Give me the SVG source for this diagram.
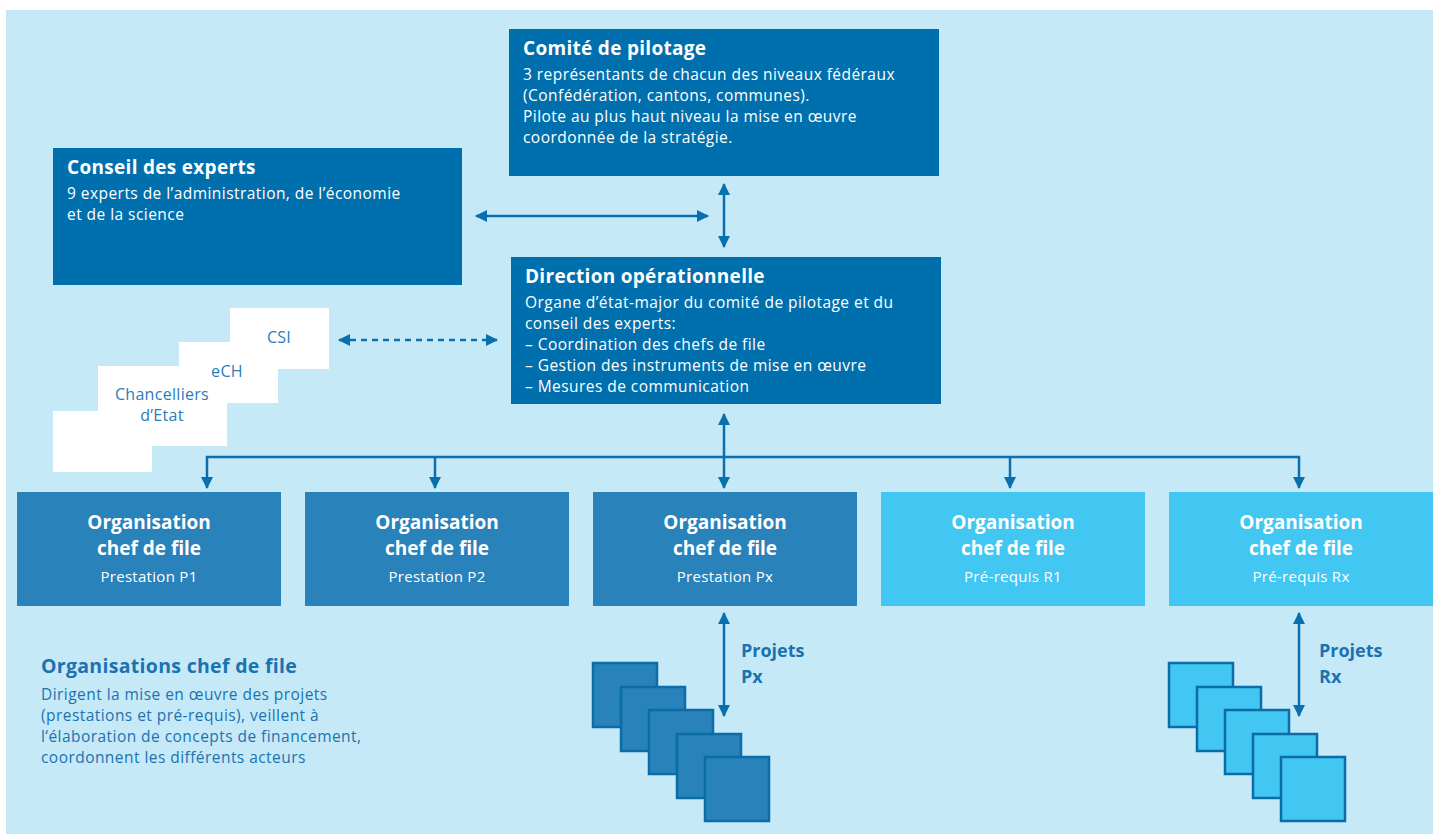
<svg xmlns="http://www.w3.org/2000/svg" width="1433" height="834" viewBox="0 0 1433 834">
<defs>
<marker id="ah" viewBox="0 0 12 12" refX="11" refY="6" markerWidth="12" markerHeight="12" markerUnits="userSpaceOnUse" orient="auto-start-reverse">
<path d="M0,0 L12,6 L0,12 z" fill="#0870AE"/>
</marker>
</defs>
<style>
text{font-family:"Open Sans","Noto Sans","Liberation Sans",sans-serif}
.dk{fill:#006FAD}
.md{fill:#2A82BA}
.lt{fill:#42C6F2}
.wt{fill:#FFFFFF}
.h{font-weight:bold;font-size:19px;letter-spacing:0.3px;fill:#FFFFFF}
.b{font-size:15.5px;letter-spacing:0.45px;fill:#FFFFFF}
.oh{font-weight:bold;font-size:19px;fill:#FFFFFF;text-anchor:middle}
.os{font-size:15px;letter-spacing:0.3px;fill:#FFFFFF;text-anchor:middle}
.bt{font-size:16px;letter-spacing:0.3px;fill:#2A7DB8;text-anchor:middle}
.ln{stroke:#0870AE;stroke-width:2.5;fill:none}
.sqP{fill:#2A82BA;stroke:#0A6DA8;stroke-width:2.5}
.sqR{fill:#42C6F2;stroke:#0A6DA8;stroke-width:2.5}
.pj{font-weight:bold;font-size:18px;fill:#1A73B0}
.lh{font-weight:bold;font-size:19.5px;letter-spacing:0.3px;fill:#1A73B0}
.lb{font-size:15.5px;letter-spacing:0.45px;fill:#1A73B0}
</style>
<rect x="6" y="10" width="1427" height="824" fill="#C6E9F8"/>

<g id="comite">
<rect class="dk" x="509" y="29" width="430" height="147"/>
<text class="h" x="523" y="55">Comité de pilotage</text>
<text class="b" x="523" y="80">3 représentants de chacun des niveaux fédéraux</text>
<text class="b" x="523" y="101">(Confédération, cantons, communes).</text>
<text class="b" x="523" y="122">Pilote au plus haut niveau la mise en œuvre</text>
<text class="b" x="523" y="143">coordonnée de la stratégie.</text>
</g>

<g id="conseil">
<rect class="dk" x="53" y="148" width="409" height="137"/>
<text class="h" x="67" y="174">Conseil des experts</text>
<text class="b" x="67" y="199">9 experts de l’administration, de l’économie</text>
<text class="b" x="67" y="220">et de la science</text>
</g>

<g id="direction">
<rect class="dk" x="511" y="257" width="430" height="147"/>
<text class="h" x="525" y="283">Direction opérationnelle</text>
<text class="b" x="525" y="308">Organe d’état-major du comité de pilotage et du</text>
<text class="b" x="525" y="329">conseil des experts:</text>
<text class="b" x="525" y="350">– Coordination des chefs de file</text>
<text class="b" x="525" y="371">– Gestion des instruments de mise en œuvre</text>
<text class="b" x="525" y="392">– Mesures de communication</text>
</g>

<g id="partners">
<rect class="wt" x="53" y="411" width="99" height="61"/>
<rect class="wt" x="98" y="366" width="129" height="80"/>
<rect class="wt" x="179" y="342" width="99" height="61"/>
<rect class="wt" x="230" y="308" width="99" height="61"/>
<text class="bt" x="279" y="343">CSI</text>
<text class="bt" x="227" y="377">eCH</text>
<text class="bt" x="162" y="400">Chancelliers</text>
<text class="bt" x="162" y="421">d’Etat</text>
</g>

<g id="org-p1">
<rect class="md" x="17" y="492" width="264" height="114"/>
<text class="oh" x="149" y="529">Organisation</text>
<text class="oh" x="149" y="555">chef de file</text>
<text class="os" x="149" y="582">Prestation P1</text>
</g>
<g id="org-p2">
<rect class="md" x="305" y="492" width="264" height="114"/>
<text class="oh" x="437" y="529">Organisation</text>
<text class="oh" x="437" y="555">chef de file</text>
<text class="os" x="437" y="582">Prestation P2</text>
</g>
<g id="org-px">
<rect class="md" x="593" y="492" width="264" height="114"/>
<text class="oh" x="725" y="529">Organisation</text>
<text class="oh" x="725" y="555">chef de file</text>
<text class="os" x="725" y="582">Prestation Px</text>
</g>
<g id="org-r1">
<rect class="lt" x="881" y="492" width="264" height="114"/>
<text class="oh" x="1013" y="529">Organisation</text>
<text class="oh" x="1013" y="555">chef de file</text>
<text class="os" x="1013" y="582">Pré-requis R1</text>
</g>
<g id="org-rx">
<rect class="lt" x="1169" y="492" width="264" height="114"/>
<text class="oh" x="1301" y="529">Organisation</text>
<text class="oh" x="1301" y="555">chef de file</text>
<text class="os" x="1301" y="582">Pré-requis Rx</text>
</g>

<g id="projets-px">
<rect class="sqP" x="593" y="663" width="64" height="64"/>
<rect class="sqP" x="621" y="687" width="64" height="64"/>
<rect class="sqP" x="649" y="710" width="64" height="64"/>
<rect class="sqP" x="677" y="734" width="64" height="64"/>
<rect class="sqP" x="705" y="757" width="64" height="64"/>
<text class="pj" x="741" y="657">Projets</text>
<text class="pj" x="741" y="683">Px</text>
</g>

<g id="projets-rx">
<rect class="sqR" x="1169" y="663" width="64" height="64"/>
<rect class="sqR" x="1197" y="687" width="64" height="64"/>
<rect class="sqR" x="1225" y="710" width="64" height="64"/>
<rect class="sqR" x="1253" y="734" width="64" height="64"/>
<rect class="sqR" x="1281" y="757" width="64" height="64"/>
<text class="pj" x="1319" y="657">Projets</text>
<text class="pj" x="1319" y="683">Rx</text>
</g>

<g id="legend">
<text class="lh" x="41" y="673">Organisations chef de file</text>
<text class="lb" x="41" y="700">Dirigent la mise en œuvre des projets</text>
<text class="lb" x="41" y="721">(prestations et pré-requis), veillent à</text>
<text class="lb" x="41" y="742">l‘élaboration de concepts de financement,</text>
<text class="lb" x="41" y="763">coordonnent les différents acteurs</text>
</g>

<g id="connectors">
<line class="ln" x1="476" y1="216" x2="708" y2="216" marker-start="url(#ah)" marker-end="url(#ah)"/>
<line class="ln" x1="724" y1="184" x2="724" y2="247" marker-start="url(#ah)" marker-end="url(#ah)"/>
<line class="ln" x1="339" y1="340" x2="497" y2="340" stroke-dasharray="6,5" marker-start="url(#ah)" marker-end="url(#ah)"/>
<line class="ln" x1="724" y1="414" x2="724" y2="488" marker-start="url(#ah)" marker-end="url(#ah)"/>
<polyline class="ln" points="207,488 207,457 1299,457 1299,488" marker-start="url(#ah)" marker-end="url(#ah)"/>
<line class="ln" x1="435" y1="457" x2="435" y2="488" marker-end="url(#ah)"/>
<line class="ln" x1="1010" y1="457" x2="1010" y2="488" marker-end="url(#ah)"/>
<line class="ln" x1="724" y1="613" x2="724" y2="716" marker-start="url(#ah)" marker-end="url(#ah)"/>
<line class="ln" x1="1299" y1="613" x2="1299" y2="716" marker-start="url(#ah)" marker-end="url(#ah)"/>
</g>
</svg>
